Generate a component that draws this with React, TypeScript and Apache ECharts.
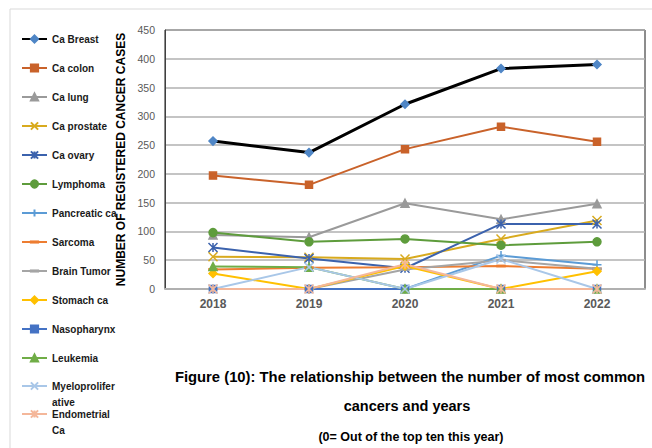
import React, { useEffect, useRef } from "react";
import * as echarts from "echarts";

// Registered cancer cases per year (0 = not among the ten most common that year)
const years = ["2018", "2019", "2020", "2021", "2022"];
const caBreast = [257, 237, 321, 383, 390];
const caColon = [197, 181, 243, 282, 256];
const caLung = [94, 90, 149, 121, 148];
const caProstate = [56, 55, 52, 87, 119];
const caOvary = [72, 53, 36, 113, 113];
const lymphoma = [98, 82, 87, 76, 82];
const pancreaticCa = [0, 0, 0, 58, 42];
const sarcoma = [34, 37, 38, 40, 35];
const brainTumor = [0, 0, 34, 50, 35];
const stomachCa = [27, 0, 40, 0, 31];
const nasopharynx = [0, 0, 0, 0, 0];
const leukemia = [39, 38, 0, 0, 0];
const myeloproliferative = [0, 38, 0, 52, 0];
const endometrialCa = [0, 0, 43, 0, 0];

const yTicks = { min: 0, max: 450, interval: 50 };

const FONT = "'Liberation Sans', Arial, sans-serif";

// stroke-only marker outlines
const SYM_X = "path://M0,0L10,10M10,0L0,10";
const SYM_STAR = "path://M0,0L10,10M10,0L0,10M5,0L5,10";
const SYM_PLUS = "path://M0,5L10,5M5,0L5,10";
// short dash; the leading moves keep a square bounding box so it is not stretched
const SYM_DASH = "path://M0,0M10,10M0,4.2L10,4.2L10,5.8L0,5.8Z";

type Def = {
  name: string;
  data: number[];
  line: string;
  mark: string;
  symbol: string;
  size: number;
  width?: number;
};

const defs: Def[] = [
  { name: "Ca Breast", data: caBreast, line: "#000000", mark: "#4F86C6", symbol: "diamond", size: 8, width: 3 },
  { name: "Ca colon", data: caColon, line: "#C9622A", mark: "#C9622A", symbol: "rect", size: 7 },
  { name: "Ca lung", data: caLung, line: "#9A9A9A", mark: "#9A9A9A", symbol: "triangle", size: 8 },
  { name: "Ca prostate", data: caProstate, line: "#D8AA1E", mark: "#D8AA1E", symbol: SYM_X, size: 9 },
  { name: "Ca ovary", data: caOvary, line: "#3B62AD", mark: "#3B62AD", symbol: SYM_STAR, size: 9 },
  { name: "Lymphoma", data: lymphoma, line: "#5E9C3C", mark: "#5E9C3C", symbol: "circle", size: 8 },
  { name: "Pancreatic ca", data: pancreaticCa, line: "#5B9BD5", mark: "#5B9BD5", symbol: SYM_PLUS, size: 9 },
  { name: "Sarcoma", data: sarcoma, line: "#ED7D31", mark: "#ED7D31", symbol: SYM_DASH, size: 8 },
  { name: "Brain Tumor", data: brainTumor, line: "#A5A5A5", mark: "#A5A5A5", symbol: SYM_DASH, size: 8 },
  { name: "Stomach ca", data: stomachCa, line: "#FFC000", mark: "#FFC000", symbol: "diamond", size: 8 },
  { name: "Nasopharynx", data: nasopharynx, line: "#4472C4", mark: "#4472C4", symbol: "rect", size: 7 },
  { name: "Leukemia", data: leukemia, line: "#70AD47", mark: "#70AD47", symbol: "triangle", size: 8 },
  { name: "Myeloproliferative", data: myeloproliferative, line: "#A9C7E8", mark: "#A9C7E8", symbol: SYM_X, size: 9 },
  { name: "Endometrial Ca", data: endometrialCa, line: "#F4B79A", mark: "#F4B79A", symbol: SYM_STAR, size: 9 },
];

// wrapped legend entries: a leading blank line keeps the icon level with the first text line
const wrapped: Record<string, string> = {
  Myeloproliferative: "\nMyeloprolifer\native",
  "Endometrial Ca": "\nEndometrial\nCa",
};

const legendText = {
  fontFamily: FONT,
  fontSize: 10,
  fontWeight: "bold",
  color: "#1A1A1A",
  lineHeight: 14,
};

function makeLegend(names: string[], top: number, twoLine: boolean) {
  return {
    orient: "vertical",
    left: 21,
    top,
    padding: 0,
    itemGap: 15,
    itemWidth: 25,
    itemHeight: 9,
    formatter: (n: string) => wrapped[n] || n,
    textStyle: twoLine ? { ...legendText, lineHeight: 16 } : legendText,
    data: names,
  };
}

export default function App() {
  const ref = useRef<HTMLDivElement>(null);

  useEffect(() => {
    if (!ref.current) return;
    const chart = echarts.init(ref.current, null, { renderer: "svg" });

    const series = defs.map((d) => ({
      name: d.name,
      type: "line",
      data: d.data,
      symbol: d.symbol,
      symbolSize: d.size,
      showSymbol: true,
      lineStyle: { color: d.line, width: d.width ?? 2 },
      itemStyle: { color: d.mark, borderColor: d.mark, borderWidth: 1.5 },
      emphasis: { disabled: true },
    }));

    const names = defs.map((d) => d.name);

    chart.setOption({
      animation: false,
      backgroundColor: "#ffffff",
      grid: {
        left: 165,
        right: 7,
        top: 30,
        bottom: 159,
        show: true,
        borderColor: "#1A1A1A",
        borderWidth: 1,
      },
      legend: [
        makeLegend(names.slice(0, 12), 32, false),
        makeLegend(["Myeloproliferative"], 362, true),
        makeLegend(["Endometrial Ca"], 390, true),
      ],
      xAxis: {
        type: "category",
        data: years,
        boundaryGap: true,
        axisTick: { show: false },
        axisLine: { show: true, lineStyle: { color: "#B0B0B0", width: 2 } },
        axisLabel: {
          margin: 9,
          fontFamily: FONT,
          fontSize: 12,
          fontWeight: "bold",
          color: "#595959",
        },
      },
      yAxis: {
        type: "value",
        min: yTicks.min,
        max: yTicks.max,
        interval: yTicks.interval,
        name: "NUMBER OF REGISTERED CANCER CASES",
        nameLocation: "middle",
        nameGap: 27,
        nameTextStyle: {
          fontFamily: FONT,
          fontSize: 12,
          fontWeight: "bold",
          color: "#000000",
        },
        axisLine: { show: true, lineStyle: { color: "#404040", width: 1 } },
        axisTick: { show: false },
        axisLabel: {
          margin: 10,
          fontFamily: FONT,
          fontSize: 10.5,
          color: "#595959",
        },
        splitLine: { lineStyle: { color: "#B0B0B0", width: 1.5 } },
      },
      graphic: [
        {
          type: "rect",
          z: -10,
          silent: true,
          shape: { x: 10, y: 9, width: 700, height: 500 },
          style: { fill: "none", stroke: "#D9D9D9", lineWidth: 1 },
        },
        {
          type: "text",
          x: 410,
          y: 377,
          style: {
            text: "Figure (10): The relationship between the number of most common",
            align: "center",
            verticalAlign: "middle",
            fontFamily: FONT,
            fontSize: 14.8,
            fontWeight: "bold",
            fill: "#000000",
          },
        },
        {
          type: "text",
          x: 407,
          y: 406,
          style: {
            text: "cancers and years",
            align: "center",
            verticalAlign: "middle",
            fontFamily: FONT,
            fontSize: 14.5,
            fontWeight: "bold",
            fill: "#000000",
          },
        },
        {
          type: "text",
          x: 411,
          y: 437,
          style: {
            text: "(0= Out of the top ten this year)",
            align: "center",
            verticalAlign: "middle",
            fontFamily: FONT,
            fontSize: 12.5,
            fontWeight: "bold",
            fill: "#000000",
          },
        },
      ],
      series,
    });

    return () => chart.dispose();
  }, []);

  return (
    <div
      ref={ref}
      style={{ position: "absolute", left: 0, top: 0, width: 652, height: 448 }}
    />
  );
}
